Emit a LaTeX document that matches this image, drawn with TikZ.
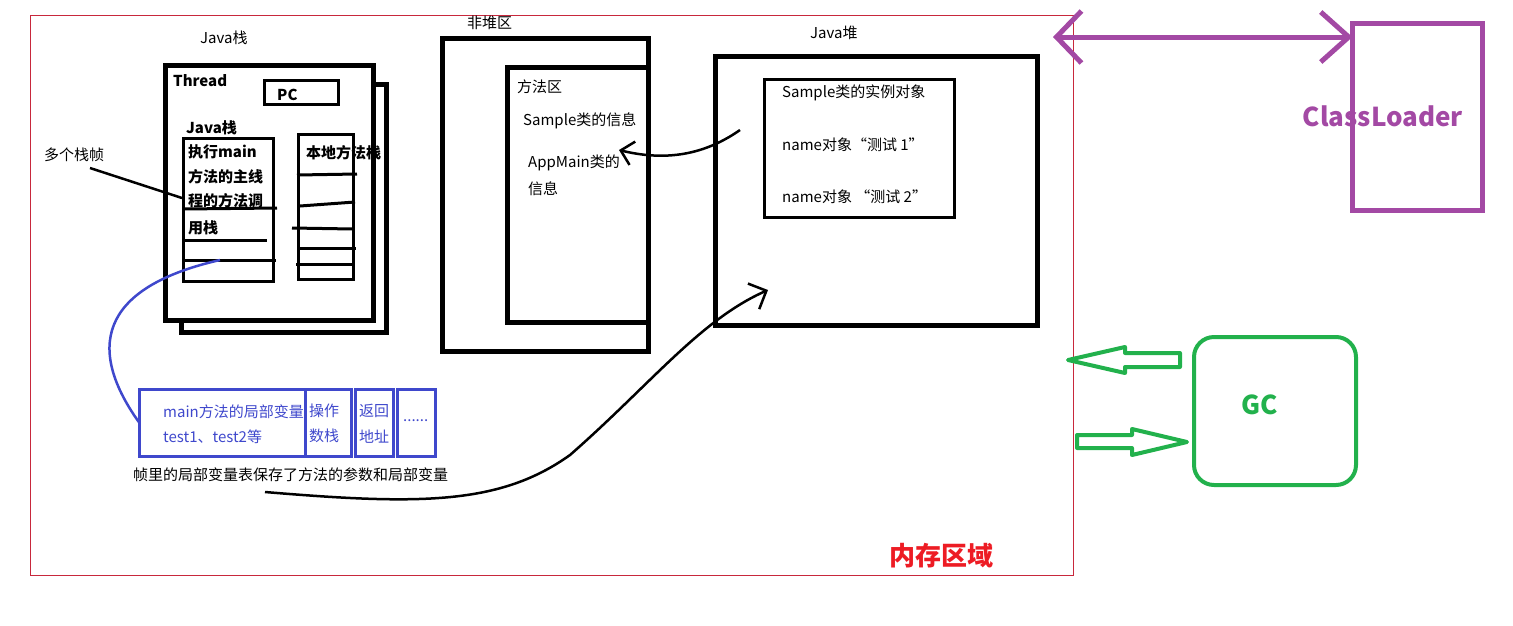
\documentclass[tikz,border=0pt]{standalone}
\usepackage{fontspec}
\setmainfont{Noto Sans CJK SC}
\usepackage{tikz}
\usetikzlibrary{arrows.meta}
\usetikzlibrary{positioning}
\definecolor{mred}{RGB}{200, 40, 60}
\definecolor{mredtext}{RGB}{237, 28, 36}
\definecolor{mpurple}{RGB}{163, 73, 164}
\definecolor{mgreen}{RGB}{34, 177, 76}
\definecolor{mblue}{RGB}{63, 72, 204}
\tikzset{box/.style = {draw, anchor=north west, inner sep=0pt, outer sep=0pt, line width=5pt},
         thinbox/.style = {box, line width=3pt},
         txt/.style = {anchor=west, inner sep=0pt, font=\fontsize{15}{17}\selectfont},
         btxt/.style = {txt, font=\fontsize{15}{17}\selectfont\bfseries}}

\begin{document}
\begin{tikzpicture}[x=1pt, y=-1pt]
      \useasboundingbox (0, 0) rectangle (1513, 625);
      \node [box, draw=mred, line width=1pt, minimum width=1043pt, minimum height=560pt] (memory) at (30, 15) {};
      \node [font=\fontsize{26}{30}\selectfont\bfseries, text=mredtext] (memlabel) at (941, 556) {内存区域};

      \node [txt] (stacklabel) at (200, 38) {Java栈};
      \draw [line width=5pt] (370, 84) -- (386, 84) -- (386, 332) -- (181, 332) -- (181, 320);
      \node [box, fill=white, minimum width=208pt, minimum height=255pt] (thread) at (165, 65) {};
      \node [btxt] (threadlabel) at (173, 81) {Thread};
      \node [thinbox, minimum width=74pt, minimum height=24pt] (pc) at (264.5, 80.5) {};
      \node [btxt] (pclabel) at (277, 95) {PC};
      \node [btxt] (jstacklabel) at (186, 128) {Java栈};
      \node [thinbox, minimum width=90pt, minimum height=143pt] (jstack) at (183.5, 138.5) {};
      \node [btxt] (main1) at (188, 152) {执行main};
      \node [btxt] (main2) at (188, 177) {方法的主线};
      \node [btxt] (main3) at (188, 201) {程的方法调};
      \node [btxt] (main4) at (188, 228) {用栈};
      \draw [line width=3pt] (183, 209) -- (277, 208);
      \draw [line width=3pt] (183, 240) -- (267, 240);
      \draw [line width=3pt] (183, 260) -- (276, 260);
      \node [thinbox, minimum width=55pt, minimum height=145pt] (native) at (298.5, 134.5) {};
      \node [btxt] (nativelabel) at (306, 153) {本地方法栈};
      \draw [line width=3pt] (297, 175) -- (357, 174);
      \draw [line width=3pt] (300, 206) -- (355, 202);
      \draw [line width=3pt] (292, 228) -- (353, 229);
      \draw [line width=3pt] (297, 248) -- (356, 248);
      \draw [line width=3pt] (296, 264) -- (354, 264);
      \node [txt] (frames) at (44, 155) {多个栈帧};
      \coordinate (framesend) at (90, 168);
      \coordinate (framestip) at (182, 198);
      \draw [line width=2.5pt] (framesend) -- (framestip);

      \node [txt] (nonheaplabel) at (467, 23) {非堆区};
      \node [box, minimum width=206pt, minimum height=313pt] (nonheap) at (442, 38) {};
      \node [box, minimum width=140.5pt, minimum height=255pt] (method) at (507.5, 67.5) {};
      \node [txt] (methodlabel) at (517, 87) {方法区};
      \node [txt] (sampleinfo) at (523, 121) {Sample类的信息};
      \node [txt] (appinfo1) at (528, 163) {AppMain类的};
      \node [txt] (appinfo2) at (528, 189) {信息};

      \node [txt] (heaplabel) at (810, 33) {Java堆};
      \node [box, minimum width=322pt, minimum height=269pt] (heap) at (715.5, 56.5) {};
      \node [thinbox, minimum width=190pt, minimum height=138pt] (obj) at (764.5, 79.5) {};
      \node [txt] (obj1) at (782, 93) {Sample类的实例对象};
      \node [txt] (obj2) at (782, 145) {name对象“测试 1”};
      \node [txt] (obj3) at (782, 197) {name对象 “测试 2”};
      \coordinate (objfrom) at (740, 130);
      \coordinate (objto) at (619, 150);
      \draw [line width=2.5pt, -{Straight Barb[length=12pt, width=24pt]}] (objfrom) .. controls (700, 158) and (660, 160) .. (objto);

      \node [thinbox, draw=mblue, minimum width=166pt, minimum height=67pt] (lvt) at (139.5, 389.5) {};
      \node [thinbox, draw=mblue, minimum width=46pt, minimum height=67pt] (opstack) at (305.5, 389.5) {};
      \node [thinbox, draw=mblue, minimum width=38.5pt, minimum height=67pt] (retaddr) at (355, 389.5) {};
      \node [thinbox, draw=mblue, minimum width=38.5pt, minimum height=67pt] (more) at (397, 389.5) {};
      \node [txt, text=mblue] (lvt1) at (163, 412) {main方法的局部变量};
      \node [txt, text=mblue] (lvt2) at (163, 437) {test1、test2等};
      \node [txt, text=mblue] (op1) at (309, 411) {操作};
      \node [txt, text=mblue] (op2) at (309, 436) {数栈};
      \node [txt, text=mblue] (ret1) at (359, 411) {返回};
      \node [txt, text=mblue] (ret2) at (359, 437) {地址};
      \node [txt, text=mblue] (dots) at (403, 421) {......};
      \node [txt] (caption) at (133, 475) {帧里的局部变量表保存了方法的参数和局部变量};
      \coordinate (frameline) at (220, 260);
      \draw [mblue, line width=2.5pt] (frameline) .. controls (110, 285) and (80, 340) .. (lvt.west);
      \coordinate (capstart) at (265, 492);
      \coordinate (heapin) at (768, 290);
      \draw [line width=2.5pt, -{Straight Barb[length=14pt, width=28pt]}] (capstart) .. controls (420, 505) and (500, 505) .. (570, 455)
                                              .. controls (650, 385) and (700, 320) .. (heapin);

      \node [box, draw=mpurple, minimum width=130pt, minimum height=187pt] (loader) at (1352.5, 23.5) {};
      \node [font=\fontsize{26}{30}\selectfont\bfseries, text=mpurple] (loaderlabel) at (1383, 116) {ClassLoader};
      \coordinate (memedge) at (1053, 37);
      \draw [mpurple, line width=5pt, {Straight Barb[length=25pt, width=52pt]}-{Straight Barb[length=28pt, width=50pt]}] (memedge) -- (loader.west |- memedge);

      \node [box, draw=mgreen, line width=4pt, rounded corners=20pt, minimum width=162pt, minimum height=148pt] (gc) at (1194, 337) {};
      \node [font=\fontsize{26}{30}\selectfont\bfseries, text=mgreen] (gclabel) at (1260, 405) {GC};
      \draw [mgreen, line width=4pt, line join=round] (1180, 353) -- (1125, 353) -- (1125, 347) -- (1068, 360)
            -- (1125, 373) -- (1125, 367) -- (1180, 367) -- cycle;
      \draw [mgreen, line width=4pt, line join=round] (1077, 435) -- (1132, 435) -- (1132, 429) -- (1187, 442)
            -- (1132, 455) -- (1132, 448) -- (1077, 448) -- cycle;
    \end{tikzpicture}
\end{document}
